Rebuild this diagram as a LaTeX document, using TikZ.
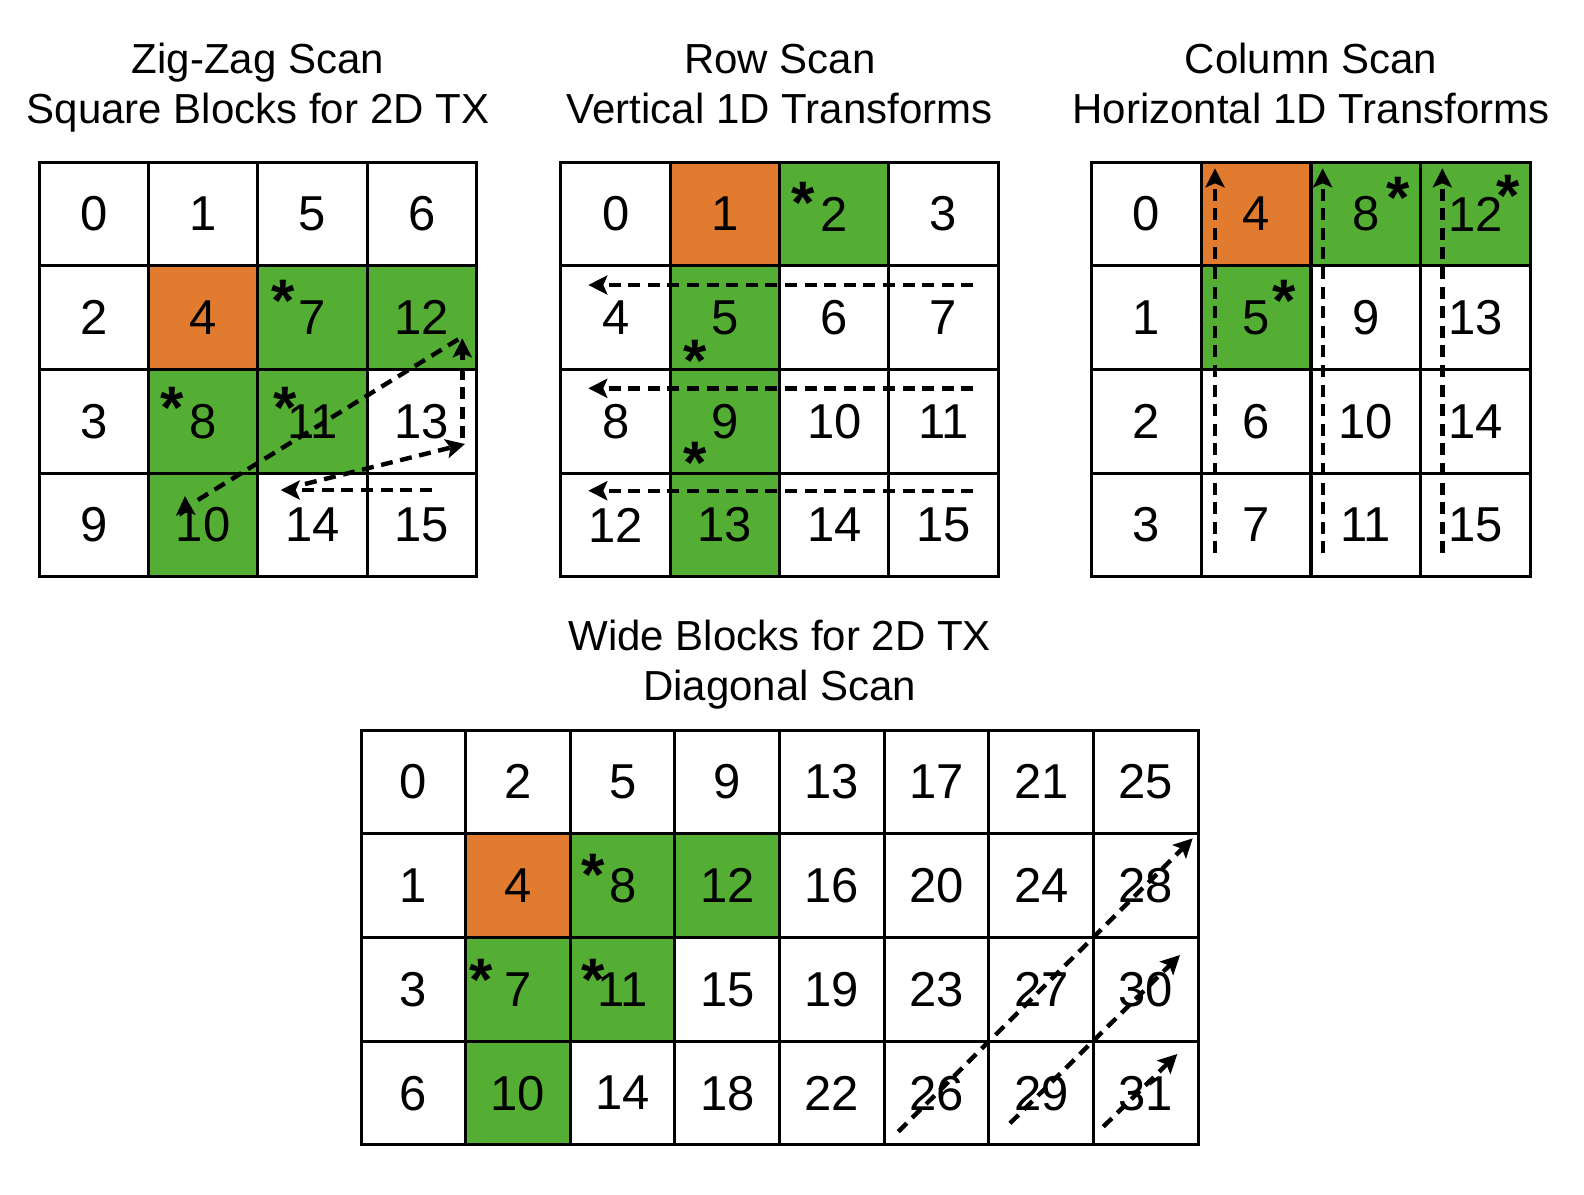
\documentclass[tikz,border=0pt]{standalone}
\usepackage{fontspec}
\setmainfont{Liberation Sans}
\usetikzlibrary{arrows.meta}
\definecolor{cW}{RGB}{255,255,255}
\definecolor{cO}{RGB}{225,123,48}
\definecolor{cG}{RGB}{84,174,52}
\begin{document}
\begin{tikzpicture}[x=0.5pt,y=-0.5pt,
  cell/.style={draw=black, line width=1.5pt, inner sep=0pt, outer sep=0pt, font=\fontsize{24.5}{28}\selectfont, minimum height=51.8pt},
  sq/.style={cell, minimum width=54.7pt},
  wd/.style={cell, minimum width=52.33pt},
  ttl/.style={font=\fontsize{21}{24}\selectfont, anchor=base, inner sep=0pt},
  ast/.style={font=\fontsize{30}{30}\selectfont\bfseries, anchor=base, inner sep=0pt, yshift=-17.5pt},
  scan/.style={line width=2.2pt, dash pattern=on 6pt off 3.8pt, -{Stealth[length=9.5pt,width=9.5pt,inset=2pt]}},
  scanline/.style={line width=2.2pt, dash pattern=on 6pt off 3.8pt},
  tiponly/.style={line width=2.2pt, -{Stealth[length=9.5pt,width=9.5pt,inset=2pt]}},
]
\useasboundingbox (0,0) rectangle (1584,1194);

% titles
\node[ttl] (t1a) at (258,73.3) {Zig-Zag Scan};
\node[ttl] (t1b) at (258,123.3) {Square Blocks for 2D TX};
\node[ttl] (t2a) at (779.7,73.3) {Row Scan};
\node[ttl] (t2b) at (779.7,123.3) {Vertical 1D Transforms};
\node[ttl] (t3a) at (1311,73.3) {Column Scan};
\node[ttl] (t3b) at (1311,123.3) {Horizontal 1D Transforms};
\node[ttl] (t4a) at (779.7,650) {Wide Blocks for 2D TX};
\node[ttl] (t4b) at (779.7,700.5) {Diagonal Scan};

% grid 1: zig-zag
\foreach \r/\row in {0/{0/W,1/W,5/W,6/W},1/{2/W,4/O,7/G,12/G},2/{3/W,8/G,11/G,13/W},3/{9/W,10/G,14/W,15/W}}{
  \foreach \n/\f [count=\c from 0] in \row {
    \node[sq, fill=c\f] (z-\r-\c) at ({39+(\c+0.5)*109.4},{162.3+(\r+0.5)*103.6}) {\n};
  }
}
% grid 2: row scan
\foreach \r/\row in {0/{0/W,1/O,2/G,3/W},1/{4/W,5/G,6/W,7/W},2/{8/W,9/G,10/W,11/W},3/{12/W,13/G,14/W,15/W}}{
  \foreach \n/\f [count=\c from 0] in \row {
    \node[sq, fill=c\f] (r-\r-\c) at ({561+(\c+0.5)*109.3},{162.3+(\r+0.5)*103.6}) {\n};
  }
}
% grid 3: column scan
\foreach \r/\row in {0/{0/W,4/O,8/G,12/G},1/{1/W,5/G,9/W,13/W},2/{2/W,6/W,10/W,14/W},3/{3/W,7/W,11/W,15/W}}{
  \foreach \n/\f [count=\c from 0] in \row {
    \node[sq, fill=c\f] (c-\r-\c) at ({1091.7+(\c+0.5)*109.6},{162.3+(\r+0.5)*103.6}) {\n};
  }
}
% grid 4: wide
\foreach \r/\row in {0/{0/W,2/W,5/W,9/W,13/W,17/W,21/W,25/W},1/{1/W,4/O,8/G,12/G,16/W,20/W,24/W,28/W},2/{3/W,7/G,11/G,15/W,19/W,23/W,27/W,30/W},3/{6/W,10/G,14/W,18/W,22/W,26/W,29/W,31/W}}{
  \foreach \n/\f [count=\c from 0] in \row {
    \node[wd, fill=c\f] (w-\r-\c) at ({361+(\c+0.5)*104.66},{730+(\r+0.5)*103.75}) {\n};
  }
}

% asterisks
\node[ast] (za1) at (283.3,286.7) {*};
\node[ast] (za2) at (172.3,393.3) {*};
\node[ast] (za3) at (285,393.3) {*};
\node[ast] (ra1) at (803.3,188.3) {*};
\node[ast] (ra2) at (695,346.7) {*};
\node[ast] (ra3) at (695,448.3) {*};
\node[ast] (ca1) at (1398.3,183.3) {*};
\node[ast] (ca2) at (1508.3,181.7) {*};
\node[ast] (ca3) at (1284.3,286.7) {*};
\node[ast] (wa1) at (592.7,860) {*};
\node[ast] (wa2) at (480.7,965) {*};
\node[ast] (wa3) at (592.7,965) {*};

% zig-zag arrows
\coordinate (zh1) at (431.7,490);
\coordinate (zh2) at (280.7,490);
\coordinate (zd1) at (305,484);
\coordinate (zd2) at (465,444);
\coordinate (zv1) at (462.3,438.3);
\coordinate (zv2) at (462.3,338.3);
\coordinate (zl1) at (458.3,339.3);
\coordinate (zl2) at (193,503);
\coordinate (zt1) at (185.7,513);
\coordinate (zt2) at (185,496);
\draw[scan] (zh1) -- (zh2);
\draw[scan] (zd1) -- (zd2);
\draw[scan] (zv1) -- (zv2);
\draw[scanline] (zl1) -- (zl2);
\draw[tiponly] (zt1) -- (zt2);

% row scan arrows
\foreach \y [count=\i] in {285,388.3,490.7}{
  \coordinate (rs\i) at (973.3,\y);
  \coordinate (re\i) at (588.3,\y);
  \draw[scan] (rs\i) -- (re\i);
}
% column scan arrows
\foreach \x [count=\i] in {1215,1322.7,1442.3}{
  \coordinate (cs\i) at (\x,553.3);
  \coordinate (ce\i) at (\x,168.3);
  \draw[scan] (cs\i) -- (ce\i);
}
% diagonal arrows
\coordinate (ws1) at (898.3,1131.7);
\coordinate (we1) at (1192.7,838.3);
\coordinate (ws2) at (1010,1123.3);
\coordinate (we2) at (1180,955);
\coordinate (ws3) at (1103.3,1126.7);
\coordinate (we3) at (1177.3,1054);
\draw[scan] (ws1) -- (we1);
\draw[scan] (ws2) -- (we2);
\draw[scan] (ws3) -- (we3);
\end{tikzpicture}
\end{document}
